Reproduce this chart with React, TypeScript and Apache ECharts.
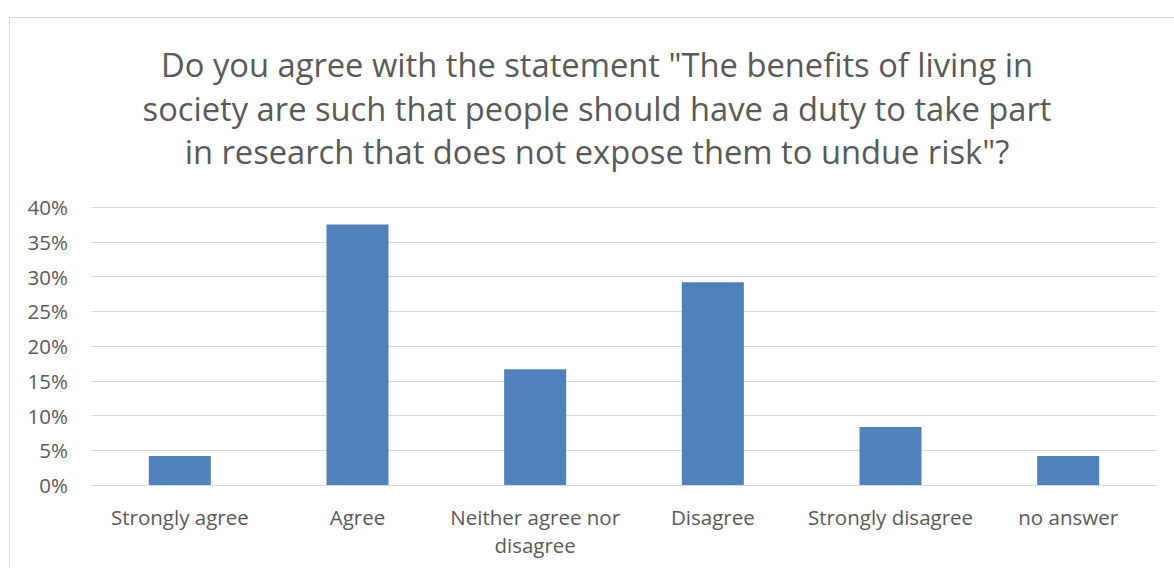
import React, { useEffect, useRef } from "react";
import * as echarts from "echarts";

const titleLines = [
  'Do you agree with the statement "The benefits of living in',
  "society are such that people should have a duty to take part",
  'in research that does not expose them to undue risk"?',
];
const categories = [
  "Strongly agree",
  "Agree",
  "Neither agree nor\ndisagree",
  "Disagree",
  "Strongly disagree",
  "no answer",
];
const values = [4.17, 37.5, 16.67, 29.17, 8.33, 4.17];
const yTicks = { min: 0, max: 40, interval: 5 };

export default function App() {
  const ref = useRef<HTMLDivElement>(null);
  useEffect(() => {
    const chart = echarts.init(ref.current!, null, { renderer: "svg" });
    const font = "'Open Sans', sans-serif";
    chart.setOption({
      animation: false,
      backgroundColor: "#ffffff",
      graphic: [
        {
          type: "rect",
          shape: { x: 9.5, y: 17.5, width: 1200, height: 600 },
          style: { fill: "none", stroke: "#d9d9d9", lineWidth: 1 },
          silent: true,
        },
      ],
      title: {
        text: titleLines.join("\n"),
        left: 592,
        textAlign: "center",
        top: 38,
        textStyle: {
          fontFamily: font,
          fontSize: 32.7,
          fontWeight: "normal",
          color: "#595959",
          lineHeight: 43.5,
        },
      },
      grid: { left: 91, right: 17, top: 207, bottom: 83 },
      xAxis: {
        type: "category",
        data: categories,
        axisLine: { lineStyle: { color: "#d9d9d9", width: 1 } },
        axisTick: { show: false },
        axisLabel: {
          interval: 0,
          margin: 18,
          fontFamily: font,
          fontSize: 20.5,
          color: "#595959",
          lineHeight: 28,
        },
      },
      yAxis: {
        type: "value",
        min: yTicks.min,
        max: yTicks.max,
        interval: yTicks.interval,
        axisLine: { show: false },
        axisTick: { show: false },
        splitLine: { lineStyle: { color: "#d9d9d9", width: 1 } },
        axisLabel: {
          margin: 23,
          fontFamily: font,
          fontSize: 20.5,
          color: "#595959",
          formatter: (v: number) => `${v}%`,
        },
      },
      series: [
        {
          type: "bar",
          data: values,
          barWidth: 62,
          itemStyle: { color: "#4f81bd" },
        },
      ],
    });
    return () => chart.dispose();
  }, []);
  return (
    <div
      ref={ref}
      style={{ position: "fixed", left: 0, top: 0, width: 1174, height: 568 }}
    />
  );
}
